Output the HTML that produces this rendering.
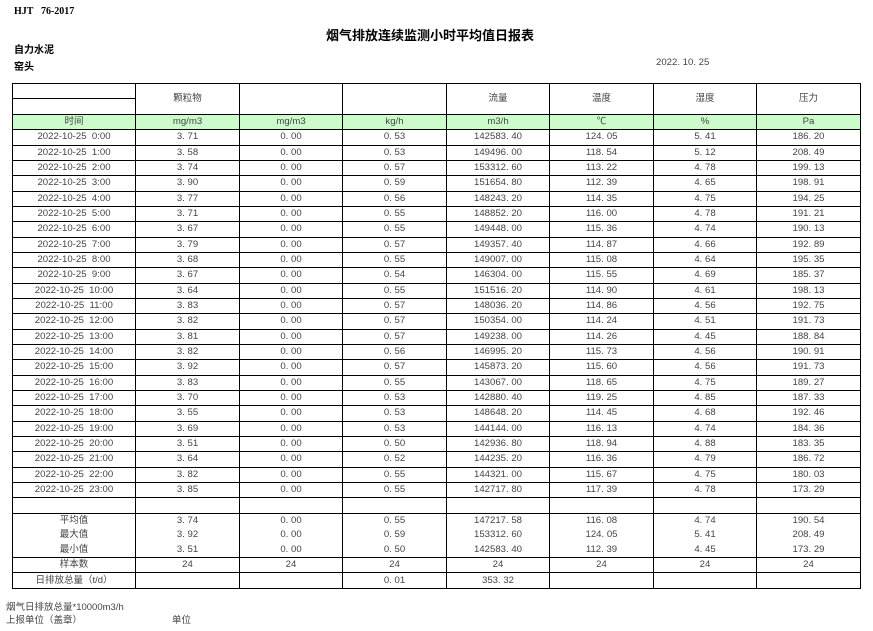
<!DOCTYPE html>
<html><head><meta charset="utf-8">
<style>
body{margin:0;width:873px;height:631px;background:#fff;position:relative;overflow:hidden;font-family:"Liberation Sans","Noto Sans CJK SC",sans-serif;color:#444}
.a{position:absolute;white-space:nowrap}
table{position:absolute;left:12px;top:83px;border-collapse:collapse;table-layout:fixed}
td{border:1px solid #000;padding:0;text-align:center;font-size:9.6px;line-height:14px;height:14.33px;overflow:hidden;white-space:pre}
tr.g td{background:#ccfccc}
.cj{font-family:"Liberation Sans","Noto Sans CJK SC",sans-serif;font-size:9.5px}
.s td{height:43px;line-height:14.5px}
</style></head><body>
<div class="a" style="left:14px;top:6px;font-family:'Liberation Serif',serif;font-weight:bold;font-size:10px;color:#000">HJT&nbsp;&nbsp;&nbsp;76-2017</div>
<div class="a" style="left:326px;top:25px;font-family:'Liberation Sans','Noto Sans CJK SC',sans-serif;font-weight:bold;font-size:13px;color:#000">烟气排放连续监测小时平均值日报表</div>
<div class="a" style="left:14px;top:41px;font-weight:bold;font-size:10px;color:#000">自力水泥</div>
<div class="a" style="left:14px;top:58px;font-weight:bold;font-size:10px;color:#000">窑头</div>
<div class="a" style="left:656px;top:57px;font-size:9.6px">2022. 10. 25</div>
<table>
<colgroup><col style="width:123px"><col style="width:104px"><col style="width:103px"><col style="width:104px"><col style="width:103px"><col style="width:104px"><col style="width:103px"><col style="width:104px"></colgroup>
<tr><td style="height:14px"></td><td rowspan="2" class="cj">颗粒物</td><td rowspan="2"></td><td rowspan="2"></td><td rowspan="2" class="cj">流量</td><td rowspan="2" class="cj">温度</td><td rowspan="2" class="cj">湿度</td><td rowspan="2" class="cj">压力</td></tr>
<tr><td style="height:15px"></td></tr>
<tr class="g"><td class="cj">时间</td><td>mg/m3</td><td>mg/m3</td><td>kg/h</td><td>m3/h</td><td>℃</td><td>%</td><td>Pa</td></tr>
<tr><td>2022-10-25  0:00</td><td>3. 71</td><td>0. 00</td><td>0. 53</td><td>142583. 40</td><td>124. 05</td><td>5. 41</td><td>186. 20</td></tr>
<tr><td>2022-10-25  1:00</td><td>3. 58</td><td>0. 00</td><td>0. 53</td><td>149496. 00</td><td>118. 54</td><td>5. 12</td><td>208. 49</td></tr>
<tr><td>2022-10-25  2:00</td><td>3. 74</td><td>0. 00</td><td>0. 57</td><td>153312. 60</td><td>113. 22</td><td>4. 78</td><td>199. 13</td></tr>
<tr><td>2022-10-25  3:00</td><td>3. 90</td><td>0. 00</td><td>0. 59</td><td>151654. 80</td><td>112. 39</td><td>4. 65</td><td>198. 91</td></tr>
<tr><td>2022-10-25  4:00</td><td>3. 77</td><td>0. 00</td><td>0. 56</td><td>148243. 20</td><td>114. 35</td><td>4. 75</td><td>194. 25</td></tr>
<tr><td>2022-10-25  5:00</td><td>3. 71</td><td>0. 00</td><td>0. 55</td><td>148852. 20</td><td>116. 00</td><td>4. 78</td><td>191. 21</td></tr>
<tr><td>2022-10-25  6:00</td><td>3. 67</td><td>0. 00</td><td>0. 55</td><td>149448. 00</td><td>115. 36</td><td>4. 74</td><td>190. 13</td></tr>
<tr><td>2022-10-25  7:00</td><td>3. 79</td><td>0. 00</td><td>0. 57</td><td>149357. 40</td><td>114. 87</td><td>4. 66</td><td>192. 89</td></tr>
<tr><td>2022-10-25  8:00</td><td>3. 68</td><td>0. 00</td><td>0. 55</td><td>149007. 00</td><td>115. 08</td><td>4. 64</td><td>195. 35</td></tr>
<tr><td>2022-10-25  9:00</td><td>3. 67</td><td>0. 00</td><td>0. 54</td><td>146304. 00</td><td>115. 55</td><td>4. 69</td><td>185. 37</td></tr>
<tr><td>2022-10-25  10:00</td><td>3. 64</td><td>0. 00</td><td>0. 55</td><td>151516. 20</td><td>114. 90</td><td>4. 61</td><td>198. 13</td></tr>
<tr><td>2022-10-25  11:00</td><td>3. 83</td><td>0. 00</td><td>0. 57</td><td>148036. 20</td><td>114. 86</td><td>4. 56</td><td>192. 75</td></tr>
<tr><td>2022-10-25  12:00</td><td>3. 82</td><td>0. 00</td><td>0. 57</td><td>150354. 00</td><td>114. 24</td><td>4. 51</td><td>191. 73</td></tr>
<tr><td>2022-10-25  13:00</td><td>3. 81</td><td>0. 00</td><td>0. 57</td><td>149238. 00</td><td>114. 26</td><td>4. 45</td><td>188. 84</td></tr>
<tr><td>2022-10-25  14:00</td><td>3. 82</td><td>0. 00</td><td>0. 56</td><td>146995. 20</td><td>115. 73</td><td>4. 56</td><td>190. 91</td></tr>
<tr><td>2022-10-25  15:00</td><td>3. 92</td><td>0. 00</td><td>0. 57</td><td>145873. 20</td><td>115. 60</td><td>4. 56</td><td>191. 73</td></tr>
<tr><td>2022-10-25  16:00</td><td>3. 83</td><td>0. 00</td><td>0. 55</td><td>143067. 00</td><td>118. 65</td><td>4. 75</td><td>189. 27</td></tr>
<tr><td>2022-10-25  17:00</td><td>3. 70</td><td>0. 00</td><td>0. 53</td><td>142880. 40</td><td>119. 25</td><td>4. 85</td><td>187. 33</td></tr>
<tr><td>2022-10-25  18:00</td><td>3. 55</td><td>0. 00</td><td>0. 53</td><td>148648. 20</td><td>114. 45</td><td>4. 68</td><td>192. 46</td></tr>
<tr><td>2022-10-25  19:00</td><td>3. 69</td><td>0. 00</td><td>0. 53</td><td>144144. 00</td><td>116. 13</td><td>4. 74</td><td>184. 36</td></tr>
<tr><td>2022-10-25  20:00</td><td>3. 51</td><td>0. 00</td><td>0. 50</td><td>142936. 80</td><td>118. 94</td><td>4. 88</td><td>183. 35</td></tr>
<tr><td>2022-10-25  21:00</td><td>3. 64</td><td>0. 00</td><td>0. 52</td><td>144235. 20</td><td>116. 36</td><td>4. 79</td><td>186. 72</td></tr>
<tr><td>2022-10-25  22:00</td><td>3. 82</td><td>0. 00</td><td>0. 55</td><td>144321. 00</td><td>115. 67</td><td>4. 75</td><td>180. 03</td></tr>
<tr><td>2022-10-25  23:00</td><td>3. 85</td><td>0. 00</td><td>0. 55</td><td>142717. 80</td><td>117. 39</td><td>4. 78</td><td>173. 29</td></tr>
<tr><td></td><td></td><td></td><td></td><td></td><td></td><td></td><td></td></tr>
<tr class="s"><td><span class="cj">平均值<br>最大值<br>最小值</span></td><td>3. 74<br>3. 92<br>3. 51</td><td>0. 00<br>0. 00<br>0. 00</td><td>0. 55<br>0. 59<br>0. 50</td><td>147217. 58<br>153312. 60<br>142583. 40</td><td>116. 08<br>124. 05<br>112. 39</td><td>4. 74<br>5. 41<br>4. 45</td><td>190. 54<br>208. 49<br>173. 29</td></tr>
<tr><td class="cj">样本数</td><td>24</td><td>24</td><td>24</td><td>24</td><td>24</td><td>24</td><td>24</td></tr>
<tr><td class="cj">日排放总量（t/d）</td><td></td><td></td><td>0. 01</td><td>353. 32</td><td></td><td></td><td></td></tr>
</table>
<div class="a cj" style="left:6px;top:599px">烟气日排放总量*10000m3/h</div>
<div class="a cj" style="left:6px;top:612px">上报单位（盖章）</div>
<div class="a cj" style="left:172px;top:612px">单位</div>
</body></html>
